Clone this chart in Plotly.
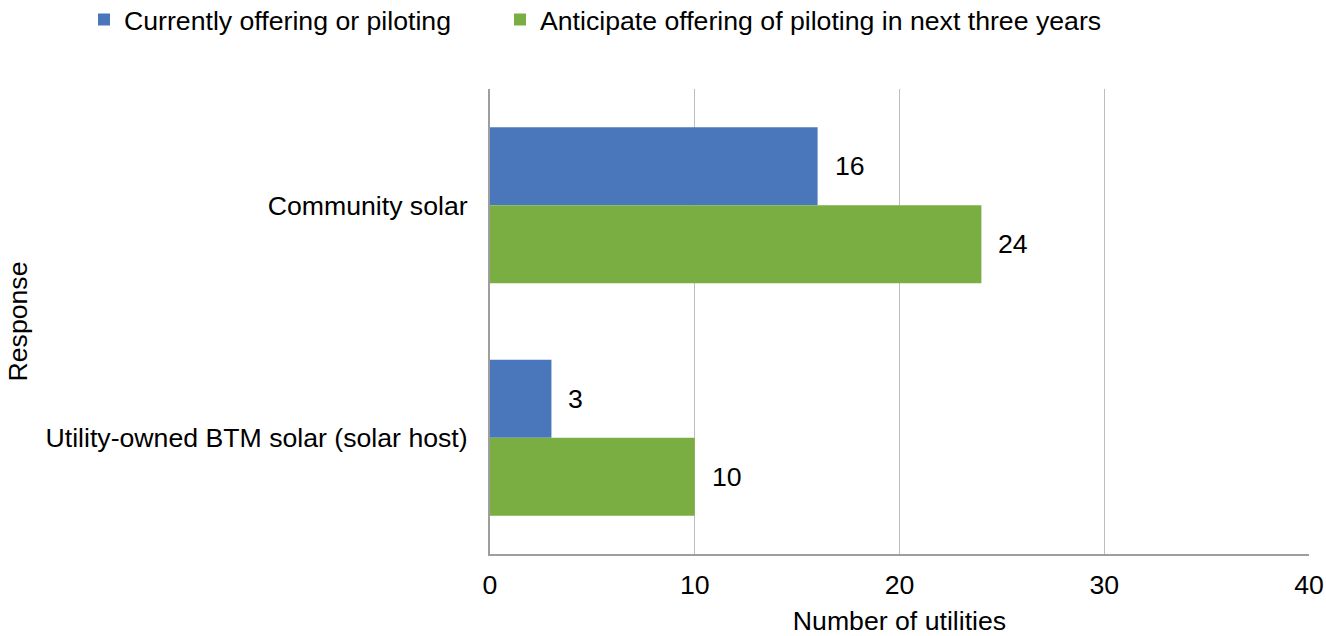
import plotly.graph_objects as go

categories = ["Community solar", "Utility-owned BTM solar (solar host)"]
series_names = ["Currently offering or piloting", "Anticipate offering of piloting in next three years"]
current_vals = [16, 3]
anticipate_vals = [24, 10]
colors = ["#4A77BC", "#7AAE42"]
x_ticks = [0, 10, 20, 30, 40]

FONT = "Liberation Sans, Arial, sans-serif"
FS = 26.67

fig = go.Figure()
for name, vals, col, lg in zip(series_names, [current_vals, anticipate_vals], colors, ["legend", "legend2"]):
    fig.add_trace(go.Bar(
        name=name, y=categories, x=vals, orientation="h",
        marker=dict(color=col, line=dict(width=0)),
        legend=lg,
    ))

# value labels to the right of each bar
annotations = []
for k, vals in enumerate([current_vals, anticipate_vals]):
    for cat, v in zip(categories, vals):
        annotations.append(dict(
            x=v, y=cat, text=str(v), showarrow=False, xanchor="left",
            xshift=15, yshift=(39 if k == 0 else -39),
            font=dict(family=FONT, size=FS, color="#000000"),
        ))

legend_common = dict(
    orientation="h", xref="container", yref="container",
    y=0.969, xanchor="left", yanchor="middle", itemwidth=30,
    font=dict(family=FONT, size=FS, color="#000000"),
    bgcolor="rgba(0,0,0,0)",
)

fig.update_layout(
    width=1326, height=636,
    margin=dict(l=490, r=17, t=89, b=82),
    paper_bgcolor="white", plot_bgcolor="white",
    barmode="group", bargap=0.33, bargroupgap=0,
    font=dict(family=FONT, size=FS, color="#000000"),
    annotations=annotations,
    showlegend=True,
    legend=dict(x=84 / 1326, **legend_common),
    legend2=dict(x=500 / 1326, **legend_common),
    xaxis=dict(
        range=[0, 40], tickvals=x_ticks, showgrid=True, gridcolor="#BEBEBE",
        gridwidth=1.3, zeroline=False, showline=True, linecolor="#9E9E9E",
        linewidth=2, ticks="", ticklabelstandoff=6, automargin=False,
        title=dict(text="Number of utilities", font=dict(family=FONT, size=FS)),
    ),
    yaxis=dict(
        autorange="reversed", showline=True, linecolor="#9E9E9E", linewidth=2,
        ticks="", ticklabelstandoff=15, showgrid=False, automargin=False,
        title=dict(text="Response", standoff=10, font=dict(family=FONT, size=FS)),
    ),
)

fig.write_html("out.html")
